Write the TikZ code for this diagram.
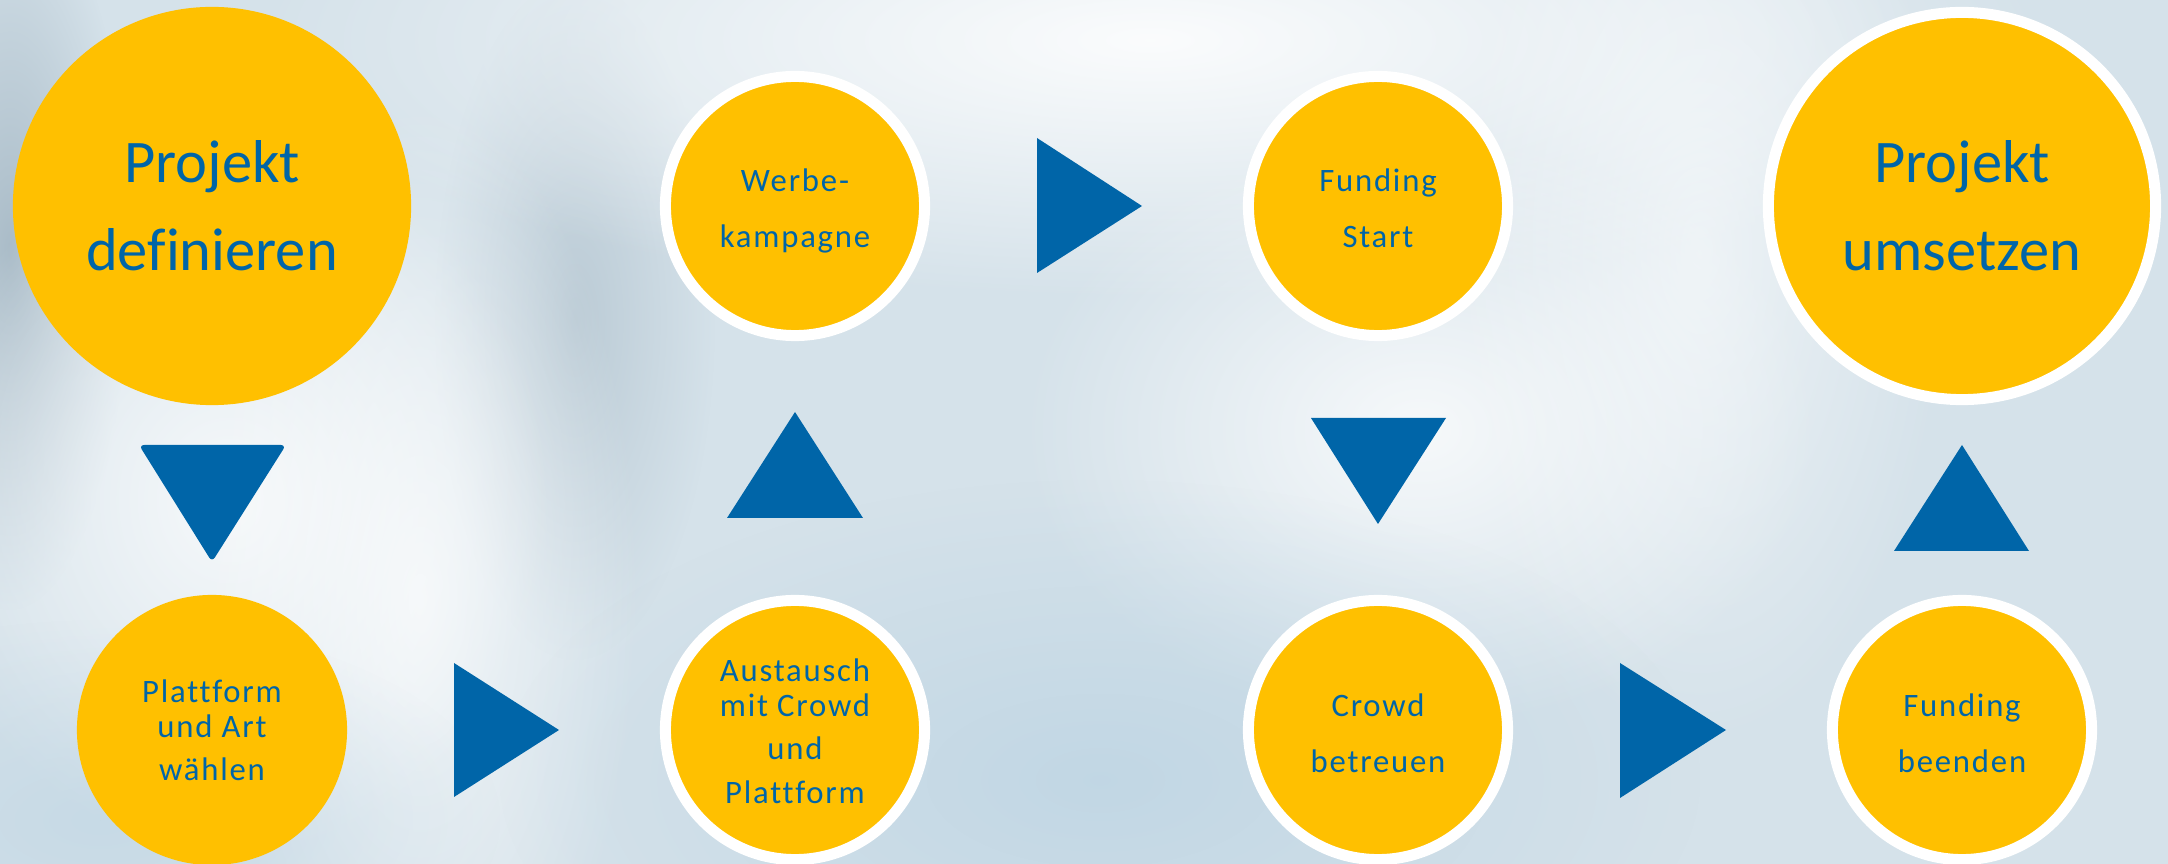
\documentclass[tikz,border=0pt]{standalone}
\usepackage{fontspec}
\setmainfont[Ligatures=NoCommon]{Carlito}
\usetikzlibrary{calc,fadings}
\definecolor{gold}{RGB}{255,192,0}
\definecolor{blu}{RGB}{0,101,168}
\definecolor{bgc}{RGB}{213,226,234}
\definecolor{darkspot}{RGB}{170,188,200}
\definecolor{bluespot}{RGB}{185,210,226}
\tikzfading[name=softspot, inner color=transparent!0, outer color=transparent!100]
\begin{document}
\begin{tikzpicture}[x=0.01cm,y=-0.01cm,
  bigc/.style={circle, fill=gold, inner sep=0pt, minimum size=3.98cm},
  ringbig/.style={circle, fill=gold, draw=white, line width=0.11cm, inner sep=0pt, minimum size=3.87cm},
  plainc/.style={circle, fill=gold, inner sep=0pt, minimum size=2.70cm},
  ringc/.style={circle, fill=gold, draw=white, line width=0.11cm, inner sep=0pt, minimum size=2.59cm},
  bigtxt/.style={text=blu, align=center, inner sep=0pt, font=\fontsize{17.2}{25}\selectfont},
  smalltxt/.style={text=blu, align=center, inner sep=0pt, font=\fontsize{9.3}{9.9}\selectfont\addfontfeatures{LetterSpace=5.5}},
  tri/.style={fill=blu},
  spot/.style={path fading=softspot}
]
\useasboundingbox (0,0) rectangle (2168,864);
\clip (0,0) rectangle (2168,864);
% background (blurred photo)
\fill[bgc] (0,0) rectangle (2168,864);
\fill[darkspot, spot] (10,250) ellipse (1.2cm and 3.6cm);
\fill[darkspot, spot, opacity=0.6] (575,320) ellipse (1.4cm and 3.4cm);
\fill[white, spot, opacity=0.9] (1150,40) ellipse (9cm and 2.6cm);
\fill[white, spot, opacity=0.8] (230,500) ellipse (3.2cm and 3.6cm);
\fill[white, spot, opacity=0.7] (420,600) ellipse (2.2cm and 5cm);
\fill[white, spot, opacity=0.8] (1420,430) ellipse (4cm and 3cm);
\fill[white, spot, opacity=0.6] (1700,250) ellipse (2.5cm and 5cm);
\fill[bluespot, spot, opacity=0.7] (1100,780) ellipse (6cm and 3cm);
\fill[bluespot, spot, opacity=0.5] (100,820) ellipse (4cm and 2cm);

% circles
\node[bigc]   (c1) at (212,206) {};
\node[plainc] (c2) at (212,730) {};
\node[ringc]  (c3) at (795,730) {};
\node[ringc]  (c4) at (795,206) {};
\node[ringc]  (c5) at (1378,206) {};
\node[ringc]  (c6) at (1378,730) {};
\node[ringc]  (c7) at (1962,730) {};
\node[ringbig] (c8) at (1962,206) {};

% texts
\node[bigtxt]   (t1) at (c1) {Projekt\\definieren};
\node[smalltxt] (t2) at (c2) {Plattform\\und Art\\[2.3pt]wählen};
\node[smalltxt] (t3) at ($(c3)+(0,1)$) {Austausch\\mit Crowd\\[2.6pt]und\\[2.4pt]Plattform};
\node[smalltxt] (t4) at ($(c4)+(0,5)$) {Werbe-\\[6pt]kampagne};
\node[smalltxt] (t5) at ($(c5)+(0,2)$) {Funding\\[6pt]Start};
\node[smalltxt] (t6) at ($(c6)+(0,3)$) {Crowd\\[6pt]betreuen};
\node[smalltxt] (t7) at ($(c7)+(0,3)$) {Funding\\[6pt]beenden};
\node[bigtxt]   (t8) at (c8) {Projekt\\umsetzen};

% triangles (arrows)
\fill[tri, rounded corners=1.5pt] (139,445) -- (286,445) -- (212,562) -- cycle;
\fill[tri] (454,663) -- (559,730) -- (454,797) -- cycle;
\fill[tri] (727,518) -- (863,518) -- (795,412) -- cycle;
\fill[tri] (1037,138) -- (1142,206) -- (1037,273) -- cycle;
\fill[tri] (1311,418) -- (1446,418) -- (1378,524) -- cycle;
\fill[tri] (1620,663) -- (1726,730) -- (1620,798) -- cycle;
\fill[tri] (1894,551) -- (2029,551) -- (1962,445) -- cycle;
\end{tikzpicture}
\end{document}
